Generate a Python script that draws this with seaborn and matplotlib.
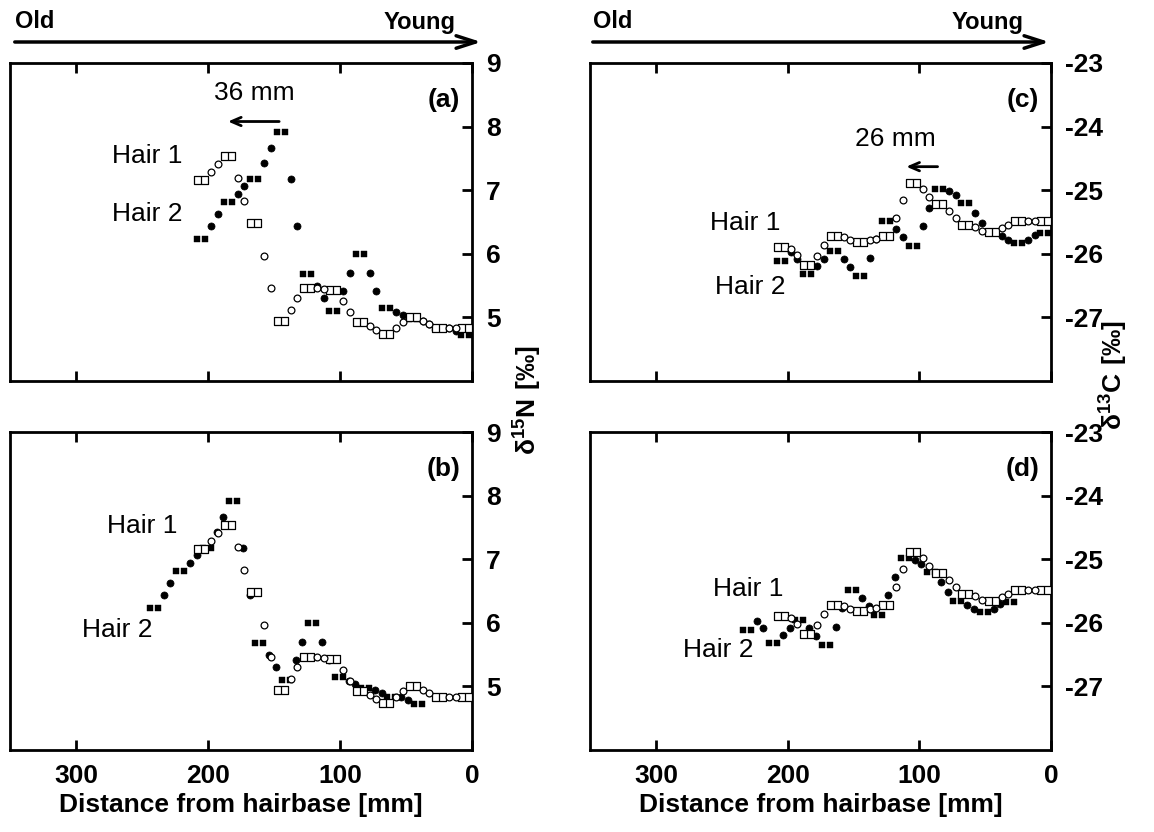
import numpy as np
import pandas as pd
import seaborn as sns
import matplotlib
matplotlib.use("Agg")
import matplotlib.pyplot as plt
from matplotlib.path import Path

# distance from hair base [mm]; "sq" = 10 mm segment, "c" = 5 mm segment
x_seg = [205, 197.5, 192.5, 185, 177.5, 172.5, 165, 157.5, 152.5, 145, 137.5,
         132.5, 125, 117.5, 112.5, 105, 97.5, 92.5, 85, 77.5, 72.5, 65, 57.5,
         52.5, 45, 37.5, 32.5, 25, 17.5, 12.5, 5]
seg_kind = ["sq", "c", "c"] * 10 + ["sq"]

# delta 15N
n_hair1 = [7.16, 7.28, 7.41, 7.54, 7.19, 6.83, 6.48, 5.97, 5.46, 4.94, 5.12,
           5.30, 5.46, 5.47, 5.44, 5.43, 5.26, 5.09, 4.92, 4.86, 4.80, 4.74,
           4.84, 4.93, 5.00, 4.95, 4.90, 4.84, 4.84, 4.84, 4.84]
n_hair2 = [6.23, 6.44, 6.63, 6.81, 6.94, 7.06, 7.17, 7.43, 7.67, 7.92, 7.18,
           6.43, 5.68, 5.49, 5.30, 5.10, 5.42, 5.70, 5.99, 5.70, 5.42, 5.14,
           5.08, 5.03, 4.97, 4.95, 4.90, 4.84, 4.84, 4.78, 4.72]

# delta 13C
c_hair1 = [-25.89, -25.93, -26.02, -26.17, -26.03, -25.86, -25.72, -25.74,
           -25.79, -25.82, -25.78, -25.77, -25.72, -25.43, -25.15, -24.88,
           -24.98, -25.10, -25.21, -25.32, -25.43, -25.55, -25.58, -25.64,
           -25.66, -25.60, -25.54, -25.49, -25.49, -25.49, -25.48]
c_hair2 = [-26.12, -25.97, -26.08, -26.32, -26.19, -26.08, -25.95, -26.08,
           -26.21, -26.35, -26.06, -25.77, -25.49, -25.61, -25.74, -25.87,
           -25.57, -25.28, -24.98, -25.02, -25.08, -25.20, -25.36, -25.52,
           -25.66, -25.72, -25.78, -25.83, -25.78, -25.71, -25.67]

shift_n = 36  # mm, hair 2 shift for (b)
shift_c = 26  # mm, hair 2 shift for (d)

sns.set_style("ticks")
plt.rcParams["font.family"] = ["Liberation Sans", "DejaVu Sans"]
plt.rcParams["font.weight"] = "bold"
plt.rcParams["mathtext.fontset"] = "custom"
plt.rcParams["mathtext.rm"] = "Liberation Sans"
plt.rcParams["mathtext.bf"] = "Liberation Sans:bold"
plt.rcParams["axes.unicode_minus"] = False
for k in ["text.color", "axes.edgecolor", "axes.labelcolor", "xtick.color", "ytick.color"]:
    plt.rcParams[k] = "black"

# double-square markers
open_sq = Path([(-1, -.5), (1, -.5), (1, .5), (-1, .5), (-1, -.5), (0, -.5), (0, .5)],
               [Path.MOVETO, Path.LINETO, Path.LINETO, Path.LINETO, Path.CLOSEPOLY,
                Path.MOVETO, Path.LINETO])
full_sq = Path([(-1, -.5), (-.1, -.5), (-.1, .5), (-1, .5), (-1, -.5),
                (.1, -.5), (1, -.5), (1, .5), (.1, .5), (.1, -.5)],
               [Path.MOVETO, Path.LINETO, Path.LINETO, Path.LINETO, Path.CLOSEPOLY,
                Path.MOVETO, Path.LINETO, Path.LINETO, Path.LINETO, Path.CLOSEPOLY])


def draw_hairs(ax, y1, y2, shift):
    h2 = pd.DataFrame({"x": np.array(x_seg) + shift, "y": y2, "kind": seg_kind})
    h1 = pd.DataFrame({"x": x_seg, "y": y1, "kind": seg_kind})
    # hair 2: filled
    sns.scatterplot(data=h2[h2.kind == "sq"], x="x", y="y", marker=full_sq, s=95,
                    color="black", edgecolor="black", linewidth=0.3, ax=ax, zorder=3)
    sns.scatterplot(data=h2[h2.kind == "c"], x="x", y="y", marker="o", s=26,
                    color="black", edgecolor="black", linewidth=0.5, ax=ax, zorder=3)
    # hair 1: open
    sns.scatterplot(data=h1[h1.kind == "sq"], x="x", y="y", marker=open_sq, s=110,
                    color="white", edgecolor="black", linewidth=0.9, ax=ax, zorder=4)
    sns.scatterplot(data=h1[h1.kind == "c"], x="x", y="y", marker="o", s=24,
                    color="white", edgecolor="black", linewidth=0.9, ax=ax, zorder=4)


def style_axes(ax, ylim, yticks, bottom_labels):
    ax.set_xlim(350, 0)
    ax.set_ylim(*ylim)
    ax.set_xticks([300, 200, 100, 0])
    ax.set_yticks(yticks)
    ax.tick_params(axis="x", direction="in", top=True, bottom=True, length=7,
                   width=2, labelsize=19, pad=10, labelbottom=bottom_labels)
    ax.tick_params(axis="y", direction="in", left=False, right=True, labelleft=False,
                   labelright=True, length=7, width=2, labelsize=19, pad=10)
    for sp in ax.spines.values():
        sp.set_linewidth(2)
        sp.set_visible(True)
        sp.set_color("black")
    ax.set_ylabel("")
    if bottom_labels:
        ax.set_xlabel("Distance from hairbase [mm]", fontsize=19, fontweight="bold", labelpad=4)
    else:
        ax.set_xlabel("")


fig = plt.figure(figsize=(11.54, 8.32), dpi=100)
W, H = 1154, 832
ax_a = fig.add_axes([10 / W, 1 - 381 / H, 462 / W, 318 / H])
ax_b = fig.add_axes([10 / W, 1 - 750 / H, 462 / W, 318 / H])
ax_c = fig.add_axes([590 / W, 1 - 381 / H, 461 / W, 318 / H])
ax_d = fig.add_axes([590 / W, 1 - 750 / H, 461 / W, 318 / H])

draw_hairs(ax_a, n_hair1, n_hair2, 0)
draw_hairs(ax_b, n_hair1, n_hair2, shift_n)
draw_hairs(ax_c, c_hair1, c_hair2, 0)
draw_hairs(ax_d, c_hair1, c_hair2, shift_c)

style_axes(ax_a, (4, 9), [5, 6, 7, 8, 9], False)
style_axes(ax_b, (4, 9), [5, 6, 7, 8, 9], True)
style_axes(ax_c, (-28, -23), [-27, -26, -25, -24, -23], False)
style_axes(ax_d, (-28, -23), [-27, -26, -25, -24, -23], True)

for ax, lab in zip([ax_a, ax_b, ax_c, ax_d], ["(a)", "(b)", "(c)", "(d)"]):
    ax.text(0.975, 0.885, lab, transform=ax.transAxes, ha="right", va="center",
            fontsize=19, fontweight="bold")

txt = dict(fontsize=19, fontweight="normal", ha="center", va="center")
ax_a.text(246, 7.53, "Hair 1", **txt)
ax_a.text(246, 6.63, "Hair 2", **txt)
ax_b.text(250, 7.52, "Hair 1", **txt)
ax_b.text(269, 5.89, "Hair 2", **txt)
ax_c.text(232, -25.52, "Hair 1", **txt)
ax_c.text(228, -26.52, "Hair 2", **txt)
ax_d.text(230, -25.47, "Hair 1", **txt)
ax_d.text(253, -26.42, "Hair 2", **txt)

# shift arrows
ax_a.text(165, 8.53, "36 mm", **txt)
ax_a.annotate("", xy=(187, 8.08), xytext=(144, 8.08),
              arrowprops=dict(arrowstyle="->,head_length=0.7,head_width=0.3", lw=2, color="black"))
ax_c.text(118, -24.2, "26 mm", **txt)
ax_c.annotate("", xy=(112, -24.63), xytext=(84, -24.63),
              arrowprops=dict(arrowstyle="->,head_length=0.7,head_width=0.3", lw=2, color="black"))

# Old -> Young arrows
for x0, x1 in [(12, 484), (590, 1052)]:
    fig.text(x0 / W + 0.003, 1 - 22 / H, "Old", fontsize=17, fontweight="bold", va="center")
    fig.text((x1 - 28) / W, 1 - 22 / H, "Young", fontsize=17, fontweight="bold",
             va="center", ha="right")
    ax_a.annotate("", xy=(x1 / W, 1 - 42 / H), xytext=(x0 / W, 1 - 42 / H),
                  xycoords="figure fraction", textcoords="figure fraction",
                  arrowprops=dict(arrowstyle="->,head_length=1.4,head_width=0.45",
                                  lw=2.5, color="black"), annotation_clip=False)

fig.text(528 / W, 1 - 400 / H, r"$\mathbf{δ^{15}N\ [‰]}$", rotation=90, fontsize=19,
         ha="center", va="center")
fig.text(1114 / W, 1 - 375 / H, r"$\mathbf{δ^{13}C\ [‰]}$", rotation=90, fontsize=19,
         ha="center", va="center")

fig.savefig("out.png", dpi=100)
